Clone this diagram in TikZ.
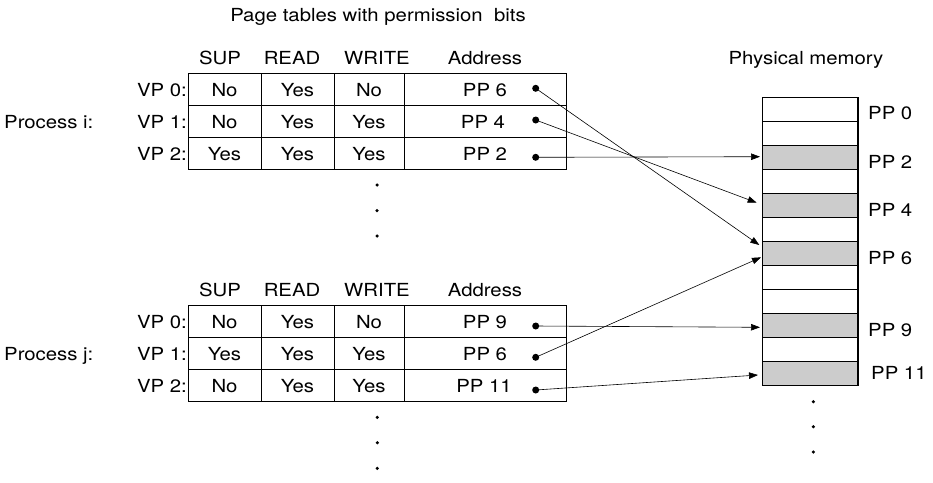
\documentclass[tikz,border=0pt]{standalone}
\usepackage{fontspec}
\setmainfont[FakeStretch=1.13]{TeX Gyre Heros}
\usetikzlibrary{arrows.meta,calc}
\definecolor{memgray}{gray}{0.8}
\begin{document}
\begin{tikzpicture}[x=1pt,y=-1pt,
  font=\fontsize{18}{21}\selectfont,
  lbl/.style={anchor=base,inner sep=0pt},
  lblE/.style={anchor=base east,inner sep=0pt},
  lblW/.style={anchor=base west,inner sep=0pt},
  grid/.style={draw=black,line width=0.8pt},
  ptr/.style={circle,fill=black,inner sep=0pt,minimum size=7pt},
  ell/.style={circle,fill=black,inner sep=0pt,minimum size=3.5pt},
  memrow/.style={draw=black,line width=1.3pt,minimum width=95.3pt,minimum height=24pt,inner sep=0pt,outer sep=0pt},
  used/.style={memrow,fill=memgray},
  link/.style={line width=0.6pt,-{Triangle[length=9pt,width=6.5pt]}}
]
\useasboundingbox[fill=white] (0,0) rectangle (933,482);

% titles
\node[lbl] (title) at (378,21) {Page tables with permission\ \ bits};
\node[lbl] (phys) at (806,64.5) {Physical memory};

% ---------- table i ----------
\draw[grid] (188,73.3) rectangle (566,169.3);
\draw[grid] (188,105.3) -- (566,105.3) (188,137.3) -- (566,137.3);
\draw[grid] (261,73.3) -- (261,169.3) (334,73.3) -- (334,169.3) (404,73.3) -- (404,169.3);

\node[lbl] (hiS) at (220,64.5) {SUP};
\node[lbl] (hiR) at (292,64.5) {READ};
\node[lbl] (hiW) at (377,64.5) {WRITE};
\node[lbl] (hiA) at (485,64.5) {Address};

\node[lblW] (proci) at (4,128) {Process i:};
\node[lblE] (vpi0) at (187,96) {VP 0:};
\node[lblE] (vpi1) at (187,128) {VP 1:};
\node[lblE] (vpi2) at (187,160) {VP 2:};

\node[lbl] (i0s) at (224.5,96) {No};
\node[lbl] (i0r) at (297.5,96) {Yes};
\node[lbl] (i0w) at (369,96) {No};
\node[lbl] (i0a) at (485,96) {PP 6};
\node[lbl] (i1s) at (224.5,128) {No};
\node[lbl] (i1r) at (297.5,128) {Yes};
\node[lbl] (i1w) at (369,128) {Yes};
\node[lbl] (i1a) at (483,128) {PP 4};
\node[lbl] (i2s) at (224.5,160) {Yes};
\node[lbl] (i2r) at (297.5,160) {Yes};
\node[lbl] (i2w) at (369,160) {Yes};
\node[lbl] (i2a) at (485,160) {PP 2};

\node[ptr] (pi0) at (535.7,88.3) {};
\node[ptr] (pi1) at (535.7,120) {};
\node[ptr] (pi2) at (535.7,157.3) {};

\node[ell] (di0) at (377,185) {};
\node[ell] (di1) at (377,210.7) {};
\node[ell] (di2) at (377,236) {};

% ---------- table j ----------
\draw[grid] (188,305) rectangle (566,401.5);
\draw[grid] (188,337.3) -- (566,337.3) (188,369.3) -- (566,369.3);
\draw[grid] (261,305) -- (261,401.5) (334,305) -- (334,401.5) (404,305) -- (404,401.5);

\node[lbl] (hjS) at (220,296.5) {SUP};
\node[lbl] (hjR) at (292,296.5) {READ};
\node[lbl] (hjW) at (377,296.5) {WRITE};
\node[lbl] (hjA) at (485,296.5) {Address};

\node[lblW] (procj) at (4,360) {Process j:};
\node[lblE] (vpj0) at (187,328) {VP 0:};
\node[lblE] (vpj1) at (187,360) {VP 1:};
\node[lblE] (vpj2) at (187,392) {VP 2:};

\node[lbl] (j0s) at (224.5,328) {No};
\node[lbl] (j0r) at (297.5,328) {Yes};
\node[lbl] (j0w) at (369,328) {No};
\node[lbl] (j0a) at (485,328) {PP 9};
\node[lbl] (j1s) at (224.5,360) {Yes};
\node[lbl] (j1r) at (297.5,360) {Yes};
\node[lbl] (j1w) at (369,360) {Yes};
\node[lbl] (j1a) at (485,360) {PP 6};
\node[lbl] (j2s) at (224.5,392) {No};
\node[lbl] (j2r) at (297.5,392) {Yes};
\node[lbl] (j2w) at (369,392) {Yes};
\node[lbl] (j2a) at (484,392) {PP 11};

\node[ptr] (pj0) at (535.7,326) {};
\node[ptr] (pj1) at (535.7,357.3) {};
\node[ptr] (pj2) at (535.7,390) {};

\node[ell] (dj0) at (377.3,417.3) {};
\node[ell] (dj1) at (377.3,442.7) {};
\node[ell] (dj2) at (377.3,468.3) {};

% ---------- physical memory ----------
\node[memrow] (m0)  at (810.35,109.3) {};
\node[memrow] (m1)  at (810.35,133.3) {};
\node[used]   (m2)  at (810.35,157.3) {};
\node[memrow] (m3)  at (810.35,181.3) {};
\node[used]   (m4)  at (810.35,205.3) {};
\node[memrow] (m5)  at (810.35,229.3) {};
\node[used]   (m6)  at (810.35,253.3) {};
\node[memrow] (m7)  at (810.35,277.3) {};
\node[memrow] (m8)  at (810.35,301.3) {};
\node[used]   (m9)  at (810.35,325.3) {};
\node[memrow] (m10) at (810.35,349.3) {};
\node[used]   (m11) at (810.35,373.3) {};

\node[lblW] (pp0)  at (868,119.5) {PP 0};
\node[lblW] (pp2)  at (868,168) {PP 2};
\node[lblW] (pp4)  at (868,216.5) {PP 4};
\node[lblW] (pp6)  at (868,264.5) {PP 6};
\node[lblW] (pp9)  at (868,336.5) {PP 9};
\node[lblW] (pp11) at (871,379.5) {PP 11};

\node[ell] (dm0) at (813.3,401.7) {};
\node[ell] (dm1) at (813.3,426.7) {};
\node[ell] (dm2) at (813.3,452) {};

% ---------- pointers ----------
\coordinate (ei0) at ($(m6.west)+(-3.4,-8.3)$);
\coordinate (ei1) at ($(m4.west)+(-6,-2.6)$);
\coordinate (ei2) at ($(m2.west)+(-2.7,-0.6)$);
\coordinate (ej0) at ($(m9.west)+(-2.7,2)$);
\coordinate (ej1) at ($(m6.west)+(-1.7,4)$);
\coordinate (ej2) at ($(m11.west)+(-4.7,1.7)$);

\draw[link] (pi0.center) -- (ei0);
\draw[link] (pi1.center) -- (ei1);
\draw[link] (pi2.center) -- (ei2);
\draw[link] (pj0.center) -- (ej0);
\draw[link] (pj1.center) -- (ej1);
\draw[link] (pj2.center) -- (ej2);
\end{tikzpicture}
\end{document}
